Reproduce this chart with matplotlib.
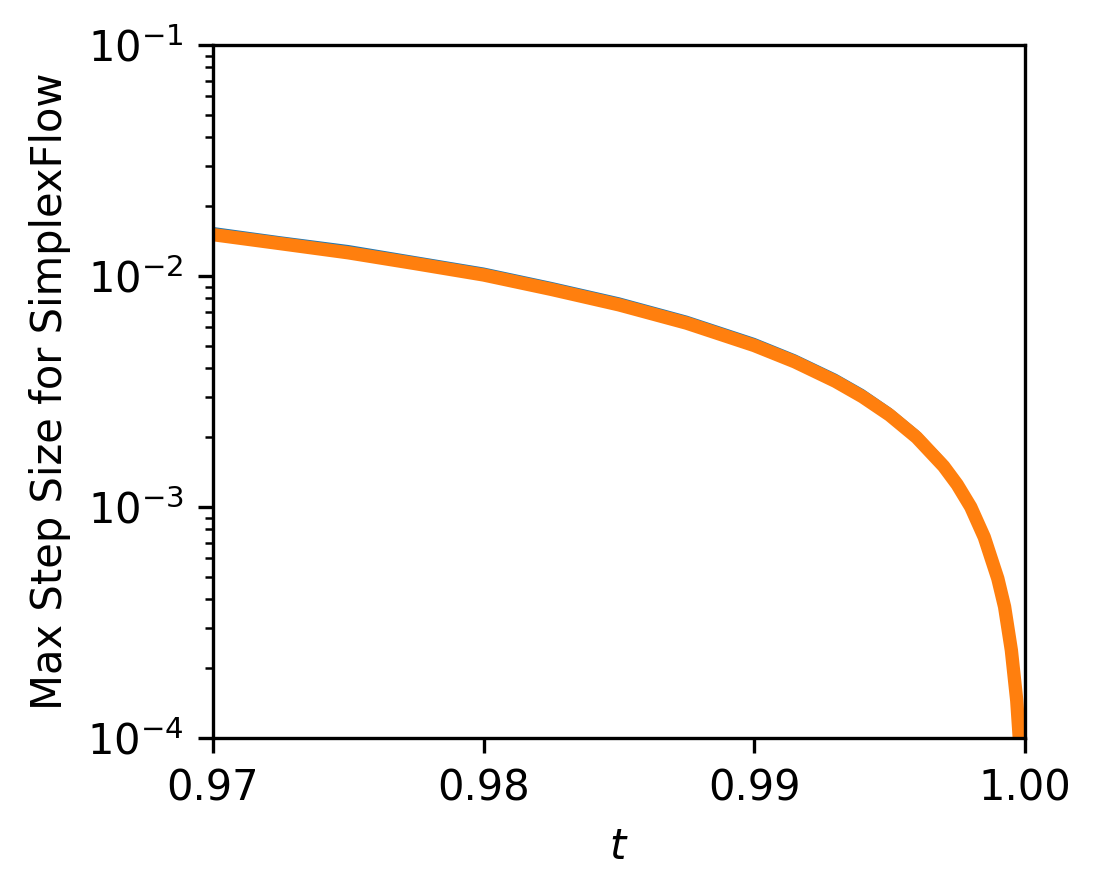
import matplotlib
matplotlib.use('Agg')
import matplotlib.pyplot as plt

# values (t, max step size)
t_vals = [0.9700, 0.9725, 0.9750, 0.9775, 0.9800, 0.9825, 0.9850, 0.9875,
          0.9900, 0.9915, 0.9930, 0.9940, 0.9950, 0.9960, 0.9970, 0.9975,
          0.9980, 0.9985, 0.9990, 0.99925, 0.9995, 0.9997, 0.9998, 0.99985,
          0.9999]
step_orange = [0.0151, 0.0138, 0.0126, 0.0113, 0.0101, 0.00875, 0.0075,
               0.00625, 0.0050, 0.00425, 0.0035, 0.0030, 0.0025, 0.0020,
               0.0015, 0.00125, 0.0010, 0.00074, 0.00049, 0.00037, 0.00024,
               0.000145, 0.000097, 0.000072, 0.000048]
step_blue = [0.0158, 0.0144, 0.0132, 0.0118, 0.01055, 0.00914, 0.00784,
             0.00653, 0.00523, 0.00444, 0.00366, 0.00314, 0.00261, 0.00209,
             0.00157, 0.00131, 0.00105, 0.000773, 0.000512, 0.000387,
             0.000251, 0.000152, 0.000101, 0.000075, 0.000050]

fig = plt.figure(figsize=(3.673, 2.98), dpi=300)
ax = fig.add_subplot(111)
fig.subplots_adjust(left=0.1933, right=0.9301, top=0.9497, bottom=0.1745)

ax.plot(t_vals, step_blue, color='C0', linewidth=1.5)
ax.plot(t_vals, step_orange, color='C1', linewidth=3.2)

ax.set_yscale('log')
ax.set_xlim(0.97, 1.0)
ax.set_ylim(1e-4, 1e-1)
ax.set_xticks([0.97, 0.98, 0.99, 1.00])
ax.set_xlabel('$t$')
ax.set_ylabel('Max Step Size for SimplexFlow')

fig.savefig('out.png', dpi=300)
